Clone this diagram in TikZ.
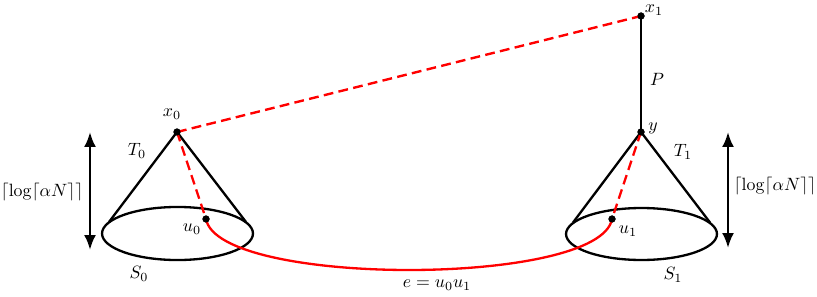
\documentclass[tikz,border=0pt]{standalone}
\usetikzlibrary{arrows.meta}
\begin{document}
\begin{tikzpicture}[x=0.5618pt,y=-0.5618pt,
  blk/.style={line width=1.3pt,black},
  redl/.style={line width=1.3pt,red},
  reddash/.style={line width=1.3pt,red,dash pattern=on 5.5pt off 3pt},
  dot/.style={circle,fill=black,inner sep=0pt,minimum size=4pt},
  lbl/.style={inner sep=0pt},
  dimarrow/.style={line width=1.4pt,{Latex[length=8.4pt,width=6.7pt]}-{Latex[length=8.4pt,width=6.7pt]}}]
\useasboundingbox (0,0) rectangle (817,296);
% points
\coordinate (c0) at (177.5,233.5);
\coordinate (c1) at (641.5,234);
\coordinate (l0) at (109,222);
\coordinate (r0) at (246,222);
\coordinate (l1) at (573,222.5);
\coordinate (r1) at (710,222.5);
\coordinate (a0t) at (90,132);
\coordinate (a0b) at (90,250);
\coordinate (a1t) at (728,132);
\coordinate (a1b) at (728,248);
% ellipses and cones
\draw[blk] (c0) ellipse [x radius=42.4pt, y radius=14.9pt];
\draw[blk] (c1) ellipse [x radius=42.4pt, y radius=14.6pt];
\node[dot] (x0) at (177,132) {};
\node[dot] (x1) at (641,16) {};
\node[dot] (y) at (641,132) {};
\node[dot] (u0) at (206,219) {};
\node[dot] (u1) at (612,219) {};
\draw[blk] (l0) -- (x0.center) -- (r0);
\draw[blk] (l1) -- (y.center) -- (r1);
\draw[blk] (x1.center) -- (y.center);
% red
\draw[reddash] (x0.center) -- (x1.center);
\draw[reddash] (x0.center) -- (u0.center);
\draw[reddash] (y.center) -- (u1.center);
\draw[redl] (u0.center) .. controls (218,287) and (600,287) .. (u1.center);
% redraw dots on top
\fill (x0) circle (2pt);
\fill (x1) circle (2pt);
\fill (y) circle (2pt);
\fill (u0) circle (2pt);
\fill (u1) circle (2pt);
% arrows
\draw[dimarrow] (a0t) -- (a0b);
\draw[dimarrow] (a1t) -- (a1b);
% labels
\node[lbl] (lx0) at (172,114) {$x_0$};
\node[lbl] (lT0) at (137,151) {$T_0$};
\node[lbl,anchor=west] (ld0) at (0.5,192) {$\lceil\log\lceil\alpha N\rceil\rceil$};
\node[lbl] (lu0) at (192,229) {$u_0$};
\node[lbl] (lS0) at (139,274) {$S_0$};
\node[lbl] (lx1) at (654,10) {$x_1$};
\node[lbl] (lP) at (657,79) {$P$};
\node[lbl] (ly) at (653,128) {$y$};
\node[lbl] (lT1) at (683,152) {$T_1$};
\node[lbl,anchor=east] (ld1) at (816.5,186) {$\lceil\log\lceil\alpha N\rceil\rceil$};
\node[lbl] (lu1) at (628,231) {$u_1$};
\node[lbl] (lS1) at (673,275) {$S_1$};
\node[lbl] (le) at (437,285) {$e=u_0u_1$};
\end{tikzpicture}
\end{document}
